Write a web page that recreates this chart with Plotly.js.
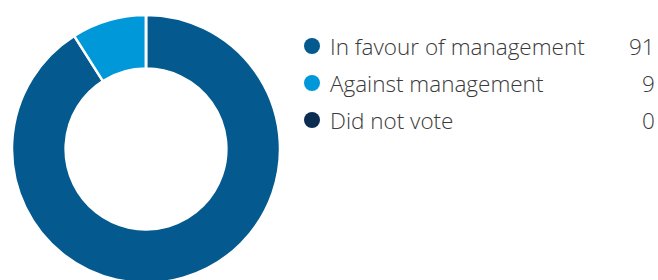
<!DOCTYPE html>
<html><head><meta charset="utf-8">
<script src="https://cdn.plot.ly/plotly-3.0.1.min.js"></script>
<style>html,body{margin:0;padding:0;overflow:hidden;background:#fff}#chart{width:658px;height:284px}</style>
</head><body><div id="chart"></div>
<script>
const categories = ["In favour of management", "Against management", "Did not vote"];
const values = [91, 9, 0];
const colors = ["#045A8F", "#0098D8", "#0C2D52"];

const W = 658, H = 284;
const rowY = categories.map((c, i) => 46 + i * 37);
const font = {family: "'Open Sans', sans-serif", size: 22.5, color: "#3a3a3a", weight: 300};

const pie = {
  type: "pie", labels: categories, values: values, hole: 0.6, sort: false,
  direction: "clockwise", rotation: 0, textinfo: "none", hoverinfo: "none",
  marker: {colors: colors, line: {color: "#ffffff", width: 2.5}},
  domain: {x: [12 / W, 280 / W], y: [1 - 283 / H, 1 - 15 / H]},
  showlegend: false
};
const dots = {
  type: "scatter", mode: "markers", x: categories.map(() => 312), y: rowY,
  marker: {size: 16, color: colors}, hoverinfo: "none", showlegend: false,
  xaxis: "x", yaxis: "y"
};
const annotations = [];
categories.forEach((c, i) => {
  annotations.push({xref: "x", yref: "y", x: 328, y: rowY[i], text: c, showarrow: false,
    xanchor: "left", yanchor: "middle", font: font});
  annotations.push({xref: "x", yref: "y", x: 657, y: rowY[i], text: String(values[i]), showarrow: false,
    xanchor: "right", yanchor: "middle", font: font});
});
Plotly.newPlot("chart", [pie, dots], {
  width: W, height: H, margin: {l: 0, r: 0, t: 0, b: 0},
  paper_bgcolor: "#fff", plot_bgcolor: "rgba(0,0,0,0)",
  xaxis: {range: [0, W], visible: false, fixedrange: true},
  yaxis: {range: [H, 0], visible: false, fixedrange: true},
  annotations: annotations
}, {staticPlot: true});
</script></body></html>
